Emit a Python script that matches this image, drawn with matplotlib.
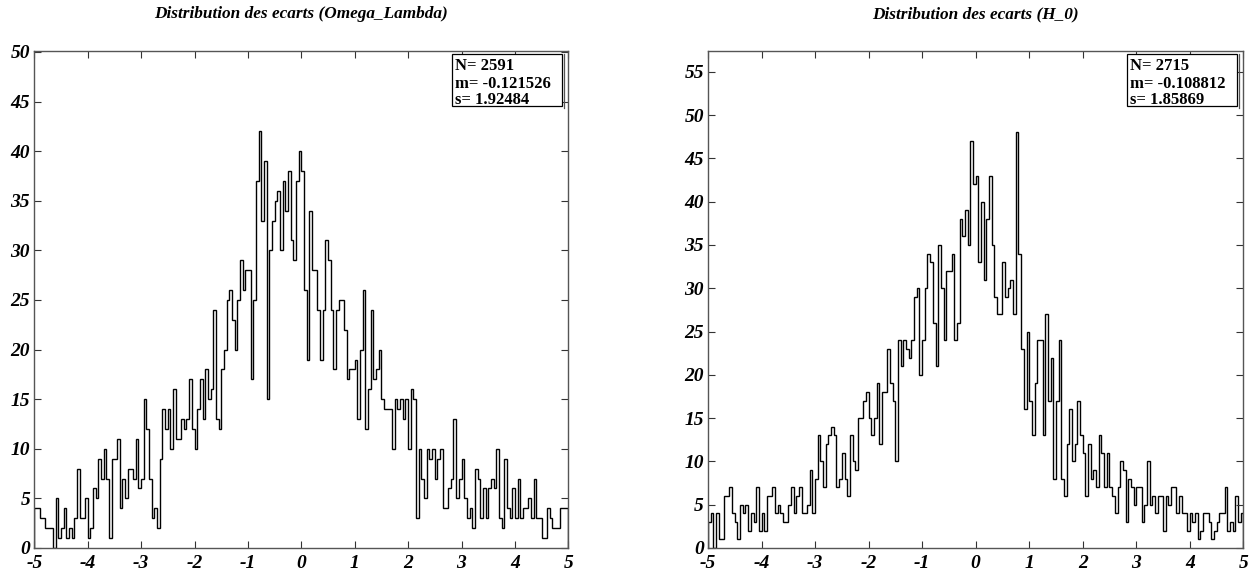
import numpy as np
import matplotlib
matplotlib.use('Agg')
import matplotlib.pyplot as plt
from matplotlib.patches import Rectangle

# 200 bins de -5 a 5
edges = np.linspace(-5, 5, 201)

omega_counts = [
    4, 4, 3, 3, 2, 2, 2, 0, 5, 1, 2, 4, 1, 2, 1, 3, 8, 3, 3, 5,
    1, 2, 6, 5, 9, 7, 10, 7, 1, 9, 9, 11, 4, 7, 5, 8, 8, 7, 11, 6,
    7, 15, 12, 7, 3, 4, 2, 9, 14, 12, 14, 10, 16, 11, 11, 13, 12, 13, 17, 12,
    10, 14, 17, 13, 18, 15, 16, 24, 13, 12, 18, 20, 25, 26, 23, 20, 25, 29, 26, 28,
    28, 17, 25, 37, 42, 33, 39, 15, 30, 33, 35, 36, 30, 37, 34, 38, 31, 29, 37, 40,
    38, 26, 19, 34, 28, 28, 24, 19, 24, 31, 29, 24, 18, 24, 25, 25, 22, 17, 18, 18,
    19, 13, 20, 26, 12, 16, 24, 17, 18, 20, 15, 14, 14, 14, 10, 15, 14, 15, 13, 15,
    10, 16, 15, 3,
    10, 7, 5, 10, 9, 10, 7, 9, 10, 4, 4, 6, 7, 13, 5, 7, 9, 5, 3, 4,
    2, 8, 7, 3, 6, 3, 6, 7, 6, 10, 3, 2, 9, 4, 3, 6, 3, 7, 3, 4,
    4, 5, 3, 7, 3, 3, 1, 1, 4, 3, 2, 2, 2, 4, 4, 4,
]

h0_counts = [
    3, 4, 0, 4, 1, 1, 6, 6, 7, 4, 3, 1, 5, 4, 5, 2, 4, 3, 7, 2,
    4, 2, 6, 6, 7, 4, 5, 4, 3, 3, 5, 7,
    4, 6, 7, 4, 4, 5, 9, 4, 8, 13, 10, 7, 12, 13, 14, 13, 7, 8, 11, 8,
    6, 13, 10, 9, 15, 15, 17, 18, 15, 13, 15, 19, 12, 18, 18, 23, 19, 17, 10, 24,
    21, 24, 23, 22, 24, 29,
    30, 20, 24, 30, 34, 33, 26, 21, 35, 30, 24, 32, 32, 34, 24, 26, 38, 36, 39, 35,
    47, 42, 43, 33, 40, 31, 38, 43, 35, 29, 27, 27, 33, 29, 30, 31, 27, 48, 34, 23,
    16, 25, 17, 13, 19, 24, 24, 13,
    27, 17, 22, 8, 17, 24, 8, 6, 12, 16, 10, 12, 17, 13, 11, 6, 12, 8, 9, 7,
    13, 11, 7, 11, 7, 6, 4, 7, 10, 9, 3, 8, 7, 5, 7, 7, 3, 5, 10, 5,
    6, 4, 6, 6, 2, 6, 5, 7, 7, 4, 6, 4, 4, 2, 4, 3, 4, 1,
    2, 4, 4, 3, 1, 2, 3, 4, 4, 7, 2, 3, 2, 6, 3, 4,
]

titles = ["Distribution des ecarts (Omega_Lambda)", "Distribution des ecarts (H_0)"]
stats = [["N= 2591", "m= -0.121526", "s= 1.92484"],
         ["N= 2715", "m= -0.108812", "s= 1.85869"]]
ymax = [50.1, 57.4]

W, H = 1251, 578
plt.rcParams['axes.unicode_minus'] = False
fig = plt.figure(figsize=(W / 100, H / 100), dpi=100)

def fx(x):
    return x / W

def fy(y):
    return 1 - y / H

left_px = [34.3, 708.0]
right_px = [568.3, 1243.3]
top_px, bot_px = 51.0, 548.0

for i, counts in enumerate([omega_counts, h0_counts]):
    ax = fig.add_axes([fx(left_px[i]), fy(bot_px), fx(right_px[i] - left_px[i]),
                       (bot_px - top_px) / H])
    ax.stairs(counts, edges, color='black', lw=1.0)
    ax.set_xlim(-5, 5)
    ax.set_ylim(0, ymax[i])
    ax.set_xticks(np.arange(-5, 6, 1))
    ax.set_yticks(np.arange(0, ymax[i], 5))
    ax.tick_params(direction='in', top=True, right=True, length=5, width=0.8,
                   color='#333333')
    ax.tick_params(axis='x', pad=5)
    ax.tick_params(axis='y', pad=3)
    for lab in ax.get_xticklabels() + ax.get_yticklabels():
        lab.set_fontfamily('Liberation Serif')
        lab.set_fontweight('bold')
        lab.set_fontstyle('italic')
        lab.set_fontsize(14)
    for sp in ax.spines.values():
        sp.set_color('#555555')
        sp.set_linewidth(1.0)

    # titre
    cx = (left_px[i] + right_px[i]) / 2
    fig.text(fx(cx), fy(14), titles[i], ha='center', va='center',
             family='Liberation Serif', weight='bold', style='italic', fontsize=12.4)

    # boite de stats
    bx1 = right_px[i] - 6
    bx0 = bx1 - 110
    by0, by1 = 54, 106
    fig.add_artist(Rectangle((fx(bx0), fy(by1)), fx(bx1 - bx0), (by1 - by0) / H,
                             transform=fig.transFigure, facecolor='white',
                             edgecolor='black', lw=0.9, zorder=5))
    fig.add_artist(plt.Line2D([fx(bx1 + 2), fx(bx1 + 2)], [fy(by0), fy(by1 + 2)],
                              transform=fig.transFigure, color='#555555', lw=0.9,
                              zorder=5))
    for line, yy in zip(stats[i], [66.5, 83.5, 99.5]):
        fig.text(fx(bx0 + 3), fy(yy), line, ha='left', va='center',
                 family='Liberation Serif', weight='bold', fontsize=12, zorder=6)

fig.savefig('out.png', dpi=100)
